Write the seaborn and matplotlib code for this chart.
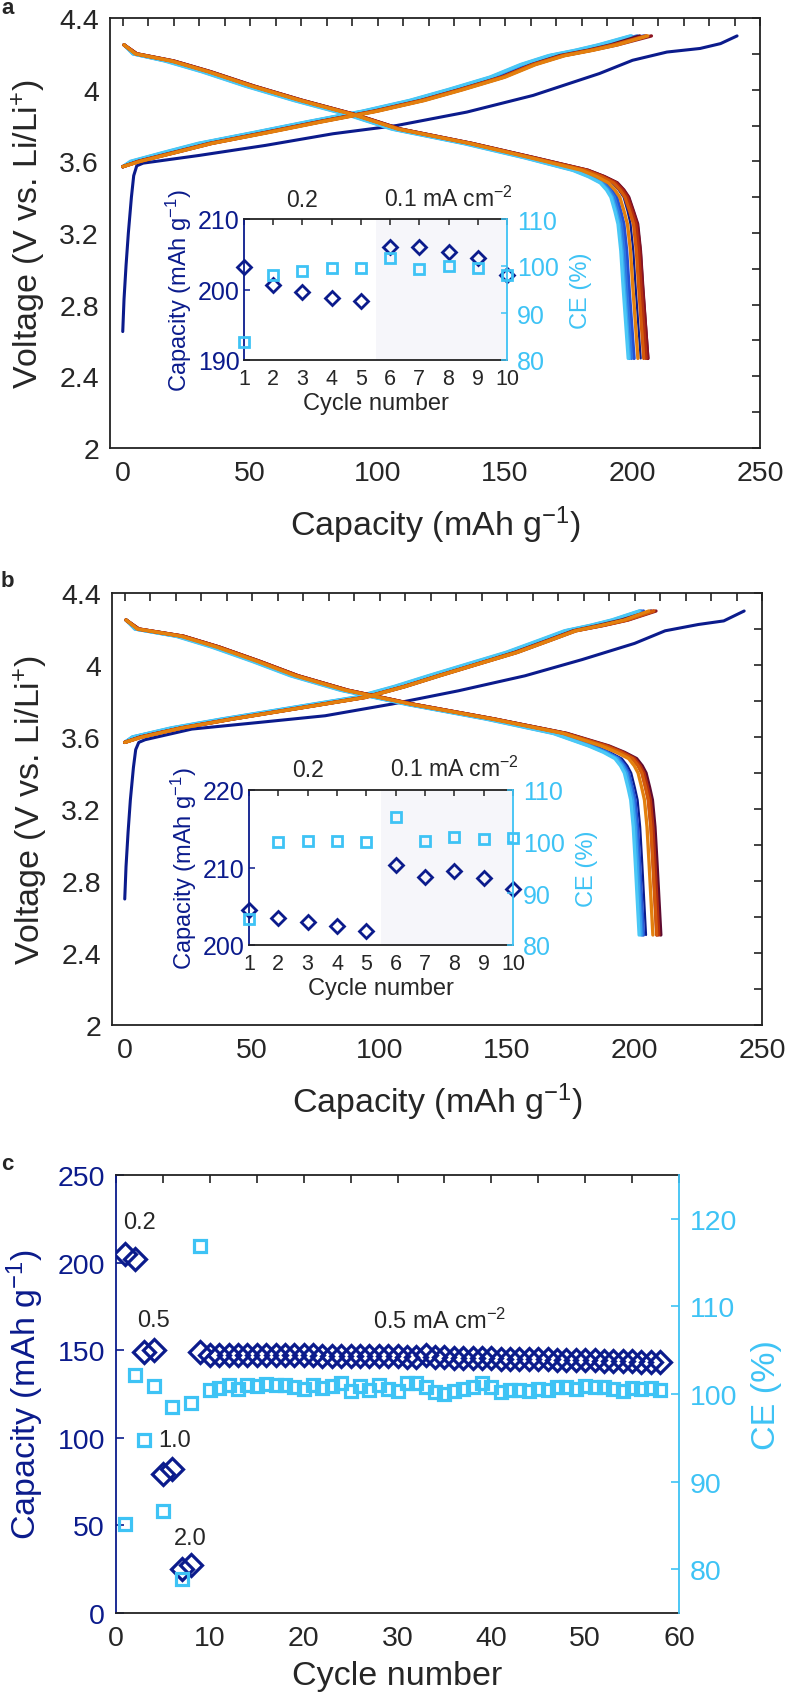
import matplotlib
matplotlib.use('Agg')
import matplotlib.pyplot as plt
from matplotlib.ticker import MultipleLocator, FuncFormatter
import seaborn as sns

# colours
navy = '#0b1b8c'
sky = '#3ec3f5'
cyc_colors = [navy, '#2450d2', '#2d78e0', '#38a4ee', '#4ac8f6',
              '#5e0b30', '#8c1420', '#b53010', '#d45a0a', '#e3800e']

# ---------------- panel a : voltage profiles ----------------
a_c1_chg_cap = [0, 0.5, 1.3, 2.2, 3.4, 4.3, 5.5, 8, 30, 56, 82.5, 107.5, 135, 161, 187, 200, 213.5, 226.5, 234.5, 241]
a_c1_chg_v = [2.65, 2.83, 3.02, 3.2, 3.4, 3.52, 3.575, 3.59, 3.633, 3.689, 3.754, 3.80, 3.875, 3.968, 4.09, 4.164, 4.21, 4.23, 4.257, 4.30]

chg_v = [3.57, 3.60, 3.65, 3.70, 3.76, 3.82, 3.88, 3.94, 4.00, 4.07, 4.14, 4.19, 4.22, 4.25, 4.30]
# charge capacity of cycles 2-10 at the chg_v voltages
a_chg_cap = [
    [0, 4.5, 18, 31.5, 53, 74, 96, 114.5, 129.5, 146, 158, 169, 180, 189, 204.5],
    [0, 4, 17, 30.5, 52, 73, 95, 113.5, 128.5, 145, 157, 168, 179, 188, 201.8],
    [0, 3.5, 16.5, 30, 51.5, 72.5, 94.5, 113, 128, 144.5, 156.5, 167.5, 178, 187, 199.6],
    [0, 3, 16, 29.5, 51, 72, 94, 112.5, 127.5, 144, 156, 167, 177.5, 186.5, 199.1],
    [0, 6, 20, 34, 55.5, 76.5, 98.5, 117, 132, 148.5, 160.5, 171.5, 182.5, 191.5, 202.8],
    [0, 6.5, 21, 35, 56.5, 77.5, 99.5, 118, 133, 149.5, 161.5, 173, 184, 194, 207.4],
    [0, 6.5, 20.5, 34.5, 56, 77, 99, 117.5, 132.5, 149, 161, 172.5, 183.5, 193, 205.5],
    [0, 6.5, 20.5, 34.5, 56, 77, 99, 117.5, 132.5, 149, 161, 172.5, 183.5, 192.5, 205.2],
    [0, 7, 21, 35, 57, 78, 100, 118.5, 133.5, 150, 162, 173.5, 184.5, 194, 206.0],
]

dis_v = [4.25, 4.20, 4.16, 4.10, 4.02, 3.94, 3.86, 3.78, 3.70, 3.62,
         3.55, 3.515, 3.48, 3.44, 3.40, 3.32, 3.25, 3.10, 2.90, 2.50]
# discharge capacity of cycles 1-10 at the dis_v voltages
a_dis_cap = [
    [0.5, 5, 19, 33.5, 50.5, 69.5, 90.5, 108, 136, 160, 180.5, 187, 192, 194.6, 196.5, 198.1, 199.2, 200.3, 201.2, 203.2],
    [0.5, 4.5, 18, 32.5, 49.5, 68.5, 89.5, 107, 135, 159, 178.5, 184.7, 189.5, 192, 193.8, 195.4, 196.6, 197.7, 198.6, 200.6],
    [0.5, 4.5, 17.5, 32, 49, 68, 89, 106.5, 134.5, 158.5, 177.5, 183.7, 188.5, 191, 192.8, 194.4, 195.6, 196.7, 197.6, 199.6],
    [0.5, 4, 17, 31.5, 48.5, 67.5, 88.5, 106, 134, 158, 177, 183.1, 187.8, 190.3, 192, 193.6, 194.8, 195.9, 196.8, 198.8],
    [0.5, 4, 16.5, 31, 48, 67, 88, 105.5, 133.5, 157.5, 176.5, 182.6, 187.3, 189.8, 191.5, 193.1, 194.3, 195.4, 196.3, 198.3],
    [0.5, 5.5, 20, 34.5, 51.5, 70.5, 91.5, 109, 137, 161.5, 182.5, 188.9, 194, 196.6, 198.5, 200.4, 202, 203.1, 204, 206],
    [0.5, 5.5, 20, 34.5, 51.5, 70.5, 91.5, 109, 137, 161.5, 182.5, 188.8, 193.8, 196.4, 198.3, 200.2, 201.8, 203, 203.9, 206],
    [0.5, 5.5, 19.5, 34, 51, 70, 91, 108.5, 136.5, 161, 182, 188.3, 193.3, 195.9, 197.8, 199.7, 201.3, 202.4, 203.3, 205.3],
    [0.5, 5, 19.5, 34, 51, 70, 91, 108.5, 136.5, 160.5, 181.5, 187.7, 192.5, 195.1, 197, 198.9, 200.4, 201.5, 202.4, 204.4],
    [0.5, 5, 19, 33.5, 50.5, 69.5, 90.5, 108, 136, 160, 180, 185.9, 190.5, 193.1, 195, 196.7, 198, 199.2, 200.1, 202.1],
]

cycles10 = [1, 2, 3, 4, 5, 6, 7, 8, 9, 10]
a_in_cap = [203.2, 200.6, 199.6, 198.8, 198.3, 206.0, 206.0, 205.3, 204.4, 202.1]
a_in_ce = [83.8, 98.1, 98.9, 99.6, 99.6, 101.6, 99.3, 99.9, 99.6, 98.1]

# ---------------- panel b : voltage profiles ----------------
b_c1_chg_cap = [0, 0.5, 1.3, 2.2, 3.4, 4.3, 5.5, 8, 26.3, 52, 78.6, 104.8, 131, 157, 179.4, 200, 212, 225, 235, 243]
b_c1_chg_v = [2.70, 2.88, 3.07, 3.25, 3.43, 3.53, 3.57, 3.585, 3.644, 3.68, 3.718, 3.783, 3.857, 3.94, 4.03, 4.12, 4.19, 4.225, 4.245, 4.30]

b_chg_cap = [
    [0, 4, 19.5, 39.5, 65.5, 91.5, 107, 120.5, 134.5, 151, 164.5, 174, 184, 192.5, 203.5],
    [0, 3.5, 19, 39, 65, 91, 106.5, 120, 134, 150.5, 164, 173.5, 183.5, 192, 202.6],
    [0, 3, 18.5, 38.5, 64.5, 90.5, 106, 119.5, 133.5, 150, 163.5, 173, 183, 191.5, 202.1],
    [0, 3, 18, 38, 64, 90, 105.5, 119, 133, 149.5, 163, 172.5, 182.5, 191, 201.8],
    [0, 6, 22, 42, 68, 94, 109.5, 123, 137, 153, 166.5, 176, 186, 195, 206.5],
    [0, 6.5, 22.5, 42.5, 68.5, 94.5, 110, 123.5, 137.5, 154, 167.5, 177, 188, 197.5, 208.4],
    [0, 6.5, 22, 42, 68, 94, 109.5, 123, 137, 153.5, 167, 176.5, 187.5, 197, 207.4],
    [0, 6.5, 22, 42, 68, 94, 109.5, 123, 137, 153.5, 167, 176.5, 187.5, 197, 207.6],
    [0, 7, 22.5, 42.5, 68.5, 94.5, 110, 123.5, 137.5, 154, 167.5, 177, 187, 196, 205.6],
]

b_dis_cap = [
    [0.5, 5, 21.5, 35.5, 51.5, 66.5, 86, 112.5, 143.5, 170.5, 184.5, 190.4, 195, 197.2, 198.7, 200.1, 201.2, 202.2, 203, 204.5],
    [0.5, 4.5, 21, 35, 51, 66, 85.5, 112, 143, 169.5, 183.5, 189.4, 194, 196.2, 197.7, 199.1, 200.2, 201.2, 202, 203.5],
    [0.5, 4.5, 21, 35, 51, 66, 85.5, 112, 142.5, 169, 183, 188.9, 193.5, 195.7, 197.2, 198.6, 199.7, 200.7, 201.5, 203],
    [0.5, 4, 20.5, 34.5, 50.5, 65.5, 85, 111.5, 142, 168.5, 182.5, 188.4, 193, 195.2, 196.7, 198.1, 199.2, 200.2, 201, 202.5],
    [0.5, 4, 20, 34, 50, 65, 84.5, 111, 141.5, 168, 182, 187.8, 192.3, 194.5, 196, 197.4, 198.5, 199.5, 200.3, 201.8],
    [0.5, 5.5, 23, 37, 53, 68, 87.5, 114, 145, 173.5, 190, 196, 200.8, 203, 204.5, 205.9, 207, 208, 208.8, 210.3],
    [0.5, 5.5, 23, 37, 53, 68, 87.5, 114, 145, 173, 189, 194.8, 199.3, 201.5, 203, 204.4, 205.5, 206.5, 207.3, 208.8],
    [0.5, 5.5, 23, 37, 53, 68, 87.5, 114, 145, 173, 189.5, 195.4, 200, 202.2, 203.7, 205.1, 206.2, 207.2, 208, 209.5],
    [0.5, 5, 22.5, 36.5, 52.5, 67.5, 87, 113.5, 144.5, 172.5, 188.5, 194.5, 199.2, 201.4, 202.9, 204.3, 205.4, 206.4, 207.2, 208.7],
    [0.5, 5, 22, 36, 52, 67, 86.5, 113, 144, 172, 187, 192.9, 197.7, 199.9, 201.4, 202.8, 203.9, 204.9, 205.7, 207.2],
]

b_in_cap = [204.5, 203.5, 203.0, 202.5, 201.8, 210.3, 208.8, 209.5, 208.7, 207.2]
b_in_ce = [85.0, 100.0, 100.2, 100.2, 100.0, 104.7, 100.2, 101.0, 100.5, 100.8]

# ---------------- panel c : rate / cycling ----------------
c_cap = [205, 202, 149, 150, 79.5, 82, 25, 27.5, 149, 147.5,
         147.5, 147.5, 147.5, 147.5, 147, 147, 147, 147, 147, 147,
         147, 146.5, 146.5, 146.5, 146.5, 146.5, 146.5, 146.5, 146.5, 146.5,
         146, 146, 147, 146, 146, 145.5, 145.5, 145.5, 145.5, 145.5,
         145, 145, 145, 145, 145, 145, 144.5, 144.5, 144.5, 144.5,
         144.5, 144, 144, 144, 144, 143.5, 143.5, 143.5]
c_ce = [85.2, 102.2, 94.7, 100.9, 86.6, 98.5, 78.9, 99.0, 116.9, 100.5,
        100.7, 101.0, 100.6, 101.0, 100.9, 101.1, 101.0, 101.0, 100.8, 100.6,
        101.0, 100.7, 100.9, 101.2, 100.3, 100.9, 100.5, 101.0, 100.6, 100.3,
        101.2, 101.3, 100.8, 100.2, 100.0, 100.3, 100.6, 100.8, 101.3, 100.8,
        100.2, 100.5, 100.4, 100.3, 100.6, 100.5, 100.8, 100.8, 100.6, 100.9,
        100.8, 100.8, 100.6, 100.3, 100.7, 100.6, 100.7, 100.5]
c_cycles = list(range(1, len(c_cap) + 1))

# ---------------- figure ----------------
sns.set_style('white')
plt.rcParams['font.family'] = ['Liberation Sans', 'DejaVu Sans']
plt.rcParams['mathtext.fontset'] = 'custom'
plt.rcParams['mathtext.rm'] = 'Liberation Sans'
plt.rcParams['mathtext.default'] = 'regular'

W, H = 787, 1706
fig = plt.figure(figsize=(W / 100, H / 100), dpi=100)


def px_rect(l, t, r, b):
    return [l / W, 1 - b / H, (r - l) / W, (b - t) / H]


fmt_g = FuncFormatter(lambda v, p: f'{v:g}')


def draw_profiles(ax, c1_cap, c1_v, chg_caps, dis_caps):
    for i in range(10):
        if i == 0:
            sns.lineplot(x=c1_cap, y=c1_v, sort=False, estimator=None,
                         color=cyc_colors[0], lw=2.2, ax=ax)
        else:
            sns.lineplot(x=chg_caps[i - 1], y=chg_v, sort=False, estimator=None,
                         color=cyc_colors[i], lw=2.4, ax=ax)
        sns.lineplot(x=dis_caps[i], y=dis_v, sort=False, estimator=None,
                     color=cyc_colors[i], lw=2.4 if i else 1.6, ax=ax)
    ax.set_xlim(-5, 250)
    ax.set_ylim(2, 4.4)
    ax.xaxis.set_major_locator(MultipleLocator(50))
    ax.xaxis.set_minor_locator(MultipleLocator(10))
    ax.yaxis.set_major_locator(MultipleLocator(0.4))
    ax.yaxis.set_minor_locator(MultipleLocator(0.2))
    ax.yaxis.set_major_formatter(fmt_g)
    ax.tick_params(which='both', direction='in', top=True, right=True,
                   length=6, width=1.2, color='#222222')
    ax.tick_params(axis='x', labelsize=20.5, pad=9)
    ax.tick_params(axis='y', labelsize=20.5, pad=8)
    for s in ax.spines.values():
        s.set_linewidth(1.3)
        s.set_color('#222222')
    ax.set_xlabel('Capacity (mAh g$^{-1}$)', fontsize=24.5, labelpad=12)
    ax.set_ylabel('Voltage (V vs. Li/Li$^{+}$)', fontsize=24.5, labelpad=8)


def draw_inset(rect, cap, ce, cap_lim, cap_ticks):
    axi = fig.add_axes(rect)
    axi.set_facecolor('white')
    axi.axvspan(5.5, 10, color='#f6f6fa', lw=0, zorder=0)
    sns.lineplot(x=cycles10, y=cap, sort=False, estimator=None, linestyle='none',
                 marker='D', markersize=7.5, markerfacecolor='none',
                 markeredgecolor=navy, markeredgewidth=2.0, ax=axi)
    axi.set_xlim(1, 10)
    axi.set_ylim(*cap_lim)
    axi.set_xticks(cycles10)
    axi.set_yticks(cap_ticks)
    axi.tick_params(axis='x', direction='in', top=True, length=4, width=1.1,
                    labelsize=15.5, pad=6, color='#222222')
    axi.tick_params(axis='y', direction='in', length=4, width=1.1, colors=navy,
                    labelsize=18, pad=3)
    axi.set_xlabel('Cycle number', fontsize=17, labelpad=2)
    axi.set_ylabel('Capacity (mAh g$^{-1}$)', fontsize=17, color=navy, labelpad=3)
    axr = axi.twinx()
    sns.lineplot(x=cycles10, y=ce, sort=False, estimator=None, linestyle='none',
                 marker='s', markersize=6.5, markerfacecolor='none',
                 markeredgecolor=sky, markeredgewidth=2.0, ax=axr)
    axr.set_ylim(80, 110)
    axr.set_yticks([80, 90, 100, 110])
    axr.tick_params(axis='y', direction='in', length=4, width=1.1, colors=sky,
                    labelsize=18, pad=7)
    axr.set_ylabel('CE (%)', fontsize=17, color=sky, labelpad=8)
    for a in (axi, axr):
        for line in a.lines:
            line.set_clip_on(False)
    axi.spines['left'].set_color(navy)
    axi.spines['right'].set_visible(False)
    axr.spines['left'].set_visible(False)
    axr.spines['top'].set_visible(False)
    axr.spines['bottom'].set_visible(False)
    axr.spines['right'].set_color(sky)
    for s in ('left', 'top', 'bottom'):
        axi.spines[s].set_linewidth(1.3)
    axi.spines['top'].set_color('#222222')
    axi.spines['bottom'].set_color('#222222')
    axr.spines['right'].set_linewidth(1.3)
    axi.text(3, 1.06, '0.2', transform=axi.get_xaxis_transform(), ha='center',
             va='bottom', fontsize=16.5)
    axi.text(8, 1.06, '0.1 mA cm$^{-2}$', transform=axi.get_xaxis_transform(),
             ha='center', va='bottom', fontsize=16.5)


# panel a
ax_a = fig.add_axes(px_rect(110, 19, 760, 449))
draw_profiles(ax_a, a_c1_chg_cap, a_c1_chg_v, a_chg_cap, a_dis_cap)
draw_inset(px_rect(244, 220, 507, 361), a_in_cap, a_in_ce, (190, 210), [190, 200, 210])

# panel b
ax_b = fig.add_axes(px_rect(112, 594, 762, 1026))
draw_profiles(ax_b, b_c1_chg_cap, b_c1_chg_v, b_chg_cap, b_dis_cap)
draw_inset(px_rect(249, 791, 513, 946), b_in_cap, b_in_ce, (200, 220), [200, 210, 220])

# panel c
ax_c = fig.add_axes(px_rect(116, 1176, 679, 1614))
sns.lineplot(x=c_cycles, y=c_cap, sort=False, estimator=None, linestyle='none',
             marker='D', markersize=11.5, markerfacecolor='none',
             markeredgecolor=navy, markeredgewidth=2.3, ax=ax_c)
ax_c.set_xlim(0, 60)
ax_c.set_ylim(0, 250)
ax_c.xaxis.set_major_locator(MultipleLocator(10))
ax_c.xaxis.set_minor_locator(MultipleLocator(5))
ax_c.yaxis.set_major_locator(MultipleLocator(50))
ax_c.tick_params(axis='x', which='both', direction='in', top=True, length=6,
                 width=1.2, labelsize=20.5, pad=9, color='#222222')
ax_c.tick_params(axis='y', direction='in', length=6, width=1.2, colors=navy,
                 labelsize=20.5, pad=8)
ax_c.set_xlabel('Cycle number', fontsize=24.5, labelpad=6)
ax_c.set_ylabel('Capacity (mAh g$^{-1}$)', fontsize=24.5, color=navy, labelpad=8)
ax_c2 = ax_c.twinx()
sns.lineplot(x=c_cycles, y=c_ce, sort=False, estimator=None, linestyle='none',
             marker='s', markersize=9, markerfacecolor='none',
             markeredgecolor=sky, markeredgewidth=2.3, ax=ax_c2)
ax_c2.set_ylim(75, 125)
ax_c2.set_yticks([80, 90, 100, 110, 120])
ax_c2.tick_params(axis='y', direction='in', length=6, width=1.2, colors=sky,
                  labelsize=20.5, pad=8)
ax_c2.set_ylabel('CE (%)', fontsize=24.5, color=sky, labelpad=10)
ax_c.spines['left'].set_color(navy)
ax_c.spines['right'].set_visible(False)
ax_c2.spines['left'].set_visible(False)
ax_c2.spines['top'].set_visible(False)
ax_c2.spines['bottom'].set_visible(False)
ax_c2.spines['right'].set_color(sky)
for s in ('left', 'top', 'bottom'):
    ax_c.spines[s].set_linewidth(1.3)
ax_c.spines['top'].set_color('#222222')
ax_c.spines['bottom'].set_color('#222222')
ax_c2.spines['right'].set_linewidth(1.3)

for txt, x, y in [('0.2', 2.5, 223), ('0.5', 4.0, 167), ('1.0', 6.2, 99),
                  ('2.0', 7.9, 43), ('0.5 mA cm$^{-2}$', 34.5, 167)]:
    ax_c.text(x, y, txt, ha='center', va='center', fontsize=17)

# panel letters
for letter, ypx in [('a', 9), ('b', 582), ('c', 1165)]:
    fig.text(1 / W, 1 - ypx / H, letter, fontsize=16, fontweight='bold',
             ha='left', va='center')

fig.savefig('out.png', dpi=100)
